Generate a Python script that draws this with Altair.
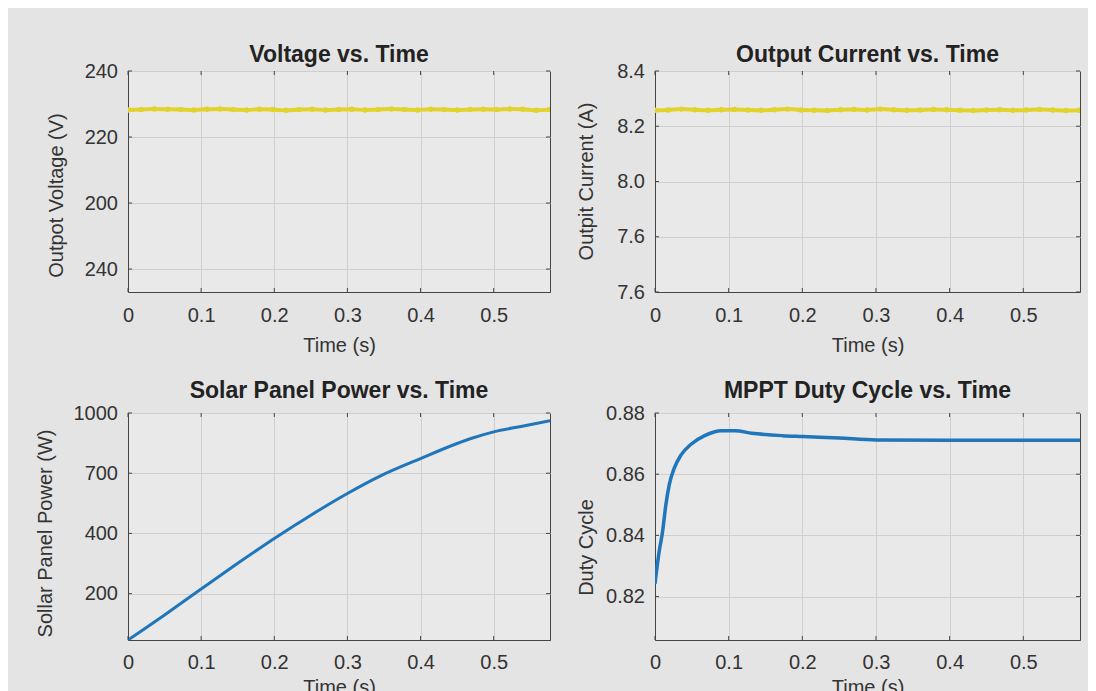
import altair as alt
import pandas as pd

# ---------------- data ----------------
time_marks = [0.000, 0.018, 0.036, 0.054, 0.072, 0.090, 0.108, 0.126, 0.144, 0.162,
              0.180, 0.198, 0.216, 0.234, 0.252, 0.270, 0.288, 0.306, 0.324, 0.342,
              0.360, 0.378, 0.396, 0.414, 0.432, 0.450, 0.468, 0.486, 0.504, 0.522,
              0.540, 0.558, 0.576]
voltage = [228.2, 228.3, 228.5, 228.4, 228.3, 228.2, 228.4, 228.5, 228.3, 228.2,
           228.4, 228.3, 228.1, 228.3, 228.4, 228.2, 228.3, 228.4, 228.2, 228.3,
           228.5, 228.3, 228.2, 228.4, 228.3, 228.2, 228.3, 228.4, 228.3, 228.5,
           228.4, 228.1, 228.3]
current = [8.258, 8.259, 8.262, 8.260, 8.258, 8.260, 8.261, 8.259, 8.258, 8.260,
           8.262, 8.259, 8.258, 8.257, 8.260, 8.261, 8.259, 8.262, 8.260, 8.258,
           8.259, 8.261, 8.260, 8.258, 8.257, 8.259, 8.260, 8.258, 8.259, 8.261,
           8.259, 8.257, 8.258]

power_t = [0.0, 0.05, 0.098, 0.15, 0.2, 0.25, 0.3, 0.346, 0.4, 0.45, 0.47, 0.5, 0.539, 0.577]
power_w = [-131, -6, 118, 251, 375, 491, 599, 688, 773, 848, 874, 906, 934, 962]

duty_t = [0.0, 0.0055, 0.0102, 0.0147, 0.0193, 0.026, 0.0354, 0.049, 0.0674, 0.0904,
          0.1087, 0.1316, 0.173, 0.2, 0.25, 0.3, 0.4, 0.5, 0.577]
duty_d = [0.8242, 0.8345, 0.8411, 0.8499, 0.8565, 0.8619, 0.8663, 0.8698, 0.8726, 0.8742,
          0.8742, 0.8734, 0.8726, 0.8723, 0.8718, 0.8712, 0.8711, 0.8711, 0.8711]

time_ticks = [0, 0.1, 0.2, 0.3, 0.4, 0.5]
time_labels = ["0", "0.1", "0.2", "0.3", "0.4", "0.5"]
volt_ticks = [180, 200, 220, 240]
volt_labels = ["240", "200", "220", "240"]
cur_ticks = [7.6, 7.8, 8.0, 8.2, 8.4]
cur_labels = ["7.6", "7.6", "8.0", "8.2", "8.4"]
pow_ticks = [100, 400, 700, 1000]
pow_labels = ["200", "400", "700", "1000"]
duty_ticks = [0.82, 0.84, 0.86, 0.88]
duty_labels = ["0.82", "0.84", "0.86", "0.88"]

titles = ["Voltage vs. Time", "Output Current vs. Time",
          "Solar Panel Power vs. Time", "MPPT Duty Cycle vs. Time"]
ytitles = ["Outpot Voltage (V)", "Outpit Current (A)", "Sollar Panel Power (W)", "Duty Cycle"]

# ---------------- style ----------------
FONT = "Liberation Sans"
YELLOW = "#e2d22c"
BLUE = "#1f76bb"
FRAME = "#454545"
T_DOMAIN = [0, 0.577]


def label_expr(vals, labels):
    arr_v = "[" + ",".join(repr(v) for v in vals) + "]"
    arr_l = "[" + ",".join("'" + s + "'" for s in labels) + "]"
    return f"{arr_l}[indexof({arr_v}, datum.value)]"


def panel(df, ydomain, yticks, ylabels, ytitle, title, w, h, color, sw,
          ytx, yty, xlp, xty, toff, points=False):
    tscale = alt.Scale(domain=T_DOMAIN, nice=False, zero=False)
    yscale = alt.Scale(domain=ydomain, nice=False, zero=False)
    xaxis = alt.Axis(values=time_ticks, labelExpr=label_expr(time_ticks, time_labels),
                     title="Time (s)", titleY=xty, labelPadding=xlp, labelFlush=False)
    yaxis = alt.Axis(values=yticks, labelExpr=label_expr(yticks, ylabels),
                     title=ytitle, titleX=ytx, titleY=yty, titleBaseline="middle")
    x = alt.X("t:Q", scale=tscale, axis=xaxis)
    y = alt.Y("v:Q", scale=yscale, axis=yaxis)
    mk = dict(color=color, strokeWidth=sw, interpolate="monotone", clip=True)
    if points:
        mk["point"] = alt.OverlayMarkDef(filled=True, size=30, color=color)
    line = alt.Chart(df).mark_line(**mk).encode(x=x, y=y)

    ydf = pd.DataFrame({"v": yticks})
    xdf = pd.DataFrame({"t": time_ticks})
    rule = dict(color=FRAME, strokeWidth=1)
    yl = alt.Chart(ydf).mark_rule(**rule).encode(y=y, x=alt.value(0), x2=alt.value(4))
    yr = alt.Chart(ydf).mark_rule(**rule).encode(y=y, x=alt.value(w - 4), x2=alt.value(w))
    xb = alt.Chart(xdf).mark_rule(**rule).encode(x=x, y=alt.value(h), y2=alt.value(h - 4))
    xt = alt.Chart(xdf).mark_rule(**rule).encode(x=x, y=alt.value(0), y2=alt.value(4))
    return alt.layer(line, yl, yr, xb, xt).properties(
        width=w, height=h, title=alt.TitleParams(title, offset=toff))


df_v = pd.DataFrame({"t": time_marks, "v": voltage})
df_c = pd.DataFrame({"t": time_marks, "v": current})
df_p = pd.DataFrame({"t": power_t, "v": power_w})
df_d = pd.DataFrame({"t": duty_t, "v": duty_d})

tl = panel(df_v, [173.05, 240], volt_ticks, volt_labels, ytitles[0], titles[0],
           422, 221, YELLOW, 4, -71.5, 124, 13, 43, -6, points=True)
tr = panel(df_c, [7.6, 8.4], cur_ticks, cur_labels, ytitles[1], titles[1],
           425, 221, YELLOW, 4, -69, 110, 13, 43, -6, points=True)
bl = panel(df_p, [-131, 1000], pow_ticks, pow_labels, ytitles[2], titles[2],
           422, 227, BLUE, 3, -82.5, 120, 12, 37, 0)
br = panel(df_d, [0.8058, 0.88], duty_ticks, duty_labels, ytitles[3], titles[3],
           425, 227, BLUE, 3.5, -69, 134, 12, 37, 0)

chart = alt.concat(tl, tr, bl, br, columns=2, spacing={"row": 121, "column": 105},
                   bounds="flush", align="each").properties(
    background="#e4e4e4",
    padding={"left": 26, "top": 35, "right": 7, "bottom": 0},
    autosize=alt.AutoSizeParams(type="pad"),
).configure_view(
    stroke=FRAME, strokeWidth=1, fill="#e9e9e9"
).configure_axis(
    domainColor=FRAME, domainWidth=1, gridColor="#cfcfcf", gridWidth=1,
    ticks=False, tickSize=0, labelFont=FONT, labelFontSize=20, labelColor="#333333",
    titleFont=FONT, titleFontSize=20, titleFontWeight="normal", titleColor="#333333",
    labelPadding=10.5,
).configure_title(
    font=FONT, fontSize=23, fontWeight="bold", color="#222222", anchor="middle", frame="group"
)

chart.save("out.html", embed_options={"renderer": "svg", "actions": False})
